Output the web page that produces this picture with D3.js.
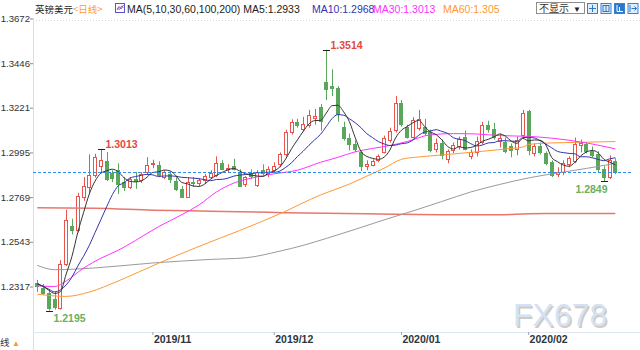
<!DOCTYPE html>
<html>
<head>
<meta charset="utf-8">
<script src="https://cdn.jsdelivr.net/npm/d3@7"></script>
<style>
  html, body { margin: 0; padding: 0; background: #fff; }
  svg { display: block; font-family: "Liberation Sans", Arial, "Noto Sans CJK SC", sans-serif; }
</style>
</head>
<body>
<svg id="chart" width="640" height="350"></svg>
<script>
// GBP/USD daily candles, 2019-10-04 .. 2020-02-24
const dates = [
  "2019-10-04","2019-10-07","2019-10-08","2019-10-09","2019-10-10","2019-10-11","2019-10-14","2019-10-15","2019-10-16","2019-10-17",
  "2019-10-18","2019-10-21","2019-10-22","2019-10-23","2019-10-24","2019-10-25","2019-10-28","2019-10-29","2019-10-30","2019-10-31",
  "2019-11-01","2019-11-04","2019-11-05","2019-11-06","2019-11-07","2019-11-08","2019-11-11","2019-11-12","2019-11-13","2019-11-14",
  "2019-11-15","2019-11-18","2019-11-19","2019-11-20","2019-11-21","2019-11-22","2019-11-25","2019-11-26","2019-11-27","2019-11-28",
  "2019-11-29","2019-12-02","2019-12-03","2019-12-04","2019-12-05","2019-12-06","2019-12-09","2019-12-10","2019-12-11","2019-12-12",
  "2019-12-13","2019-12-16","2019-12-17","2019-12-18","2019-12-19","2019-12-20","2019-12-23","2019-12-24","2019-12-25","2019-12-26",
  "2019-12-27","2019-12-30","2019-12-31","2020-01-02","2020-01-03","2020-01-06","2020-01-07","2020-01-08","2020-01-09","2020-01-10",
  "2020-01-13","2020-01-14","2020-01-15","2020-01-16","2020-01-17","2020-01-20","2020-01-21","2020-01-22","2020-01-23","2020-01-24",
  "2020-01-27","2020-01-28","2020-01-29","2020-01-30","2020-01-31","2020-02-03","2020-02-04","2020-02-05","2020-02-06","2020-02-07",
  "2020-02-10","2020-02-11","2020-02-12","2020-02-13","2020-02-14","2020-02-17","2020-02-18","2020-02-19","2020-02-20","2020-02-21",
  "2020-02-24"
];
const open = [
  1.2335,1.2307,1.2285,1.2255,1.2206,1.2430,1.2625,1.2602,1.2772,1.2822,
  1.2882,1.2925,1.2950,1.2890,1.2905,1.2845,1.2820,1.2862,1.2853,1.2896,
  1.2935,1.2929,1.2870,1.2887,1.2850,1.2810,1.2772,1.2845,1.2838,1.2853,
  1.2870,1.2880,1.2941,1.2913,1.2925,1.2895,1.2835,1.2890,1.2828,1.2908,
  1.2885,1.2905,1.2935,1.2988,1.3098,1.3148,1.3115,1.3132,1.3170,1.3225,
  1.3352,1.3330,1.3322,1.3125,1.3070,1.3035,1.2995,1.2925,1.2932,1.2955,
  1.2998,1.3060,1.3106,1.3244,1.3123,1.3075,1.3118,1.3123,1.3098,1.3010,
  1.3045,1.2960,1.3005,1.3025,1.3072,1.2978,1.2998,1.3050,1.3132,1.3115,
  1.3055,1.3050,1.3025,1.3010,1.3085,1.3205,1.2990,1.3025,1.2990,1.2945,
  1.2885,1.2898,1.2935,1.2950,1.3032,1.3035,1.3000,1.2985,1.2912,1.2872,
  1.2950
];
const high = [
  1.2350,1.2330,1.2300,1.2290,1.2450,1.2705,1.2660,1.2790,1.2870,1.2985,
  1.2988,1.3013,1.2997,1.2905,1.2940,1.2870,1.2870,1.2896,1.2895,1.2971,
  1.2958,1.2950,1.2905,1.2898,1.2870,1.2825,1.2870,1.2870,1.2865,1.2885,
  1.2905,1.2975,1.2955,1.2935,1.2963,1.2910,1.2875,1.2910,1.2905,1.2935,
  1.2925,1.2945,1.2995,1.3110,1.3162,1.3165,1.3175,1.3210,1.3215,1.3240,
  1.3514,1.3415,1.3330,1.3150,1.3090,1.3055,1.3005,1.2955,1.2960,1.2985,
  1.3080,1.3120,1.3280,1.3260,1.3135,1.3173,1.3210,1.3165,1.3110,1.3065,
  1.3060,1.3010,1.3045,1.3075,1.3106,1.3010,1.3075,1.3150,1.3155,1.3145,
  1.3090,1.3070,1.3040,1.3075,1.3210,1.3210,1.3040,1.3045,1.3000,1.2955,
  1.2920,1.2955,1.2975,1.3070,1.3060,1.3045,1.3025,1.3000,1.2925,1.2980,
  1.2965
];
const low = [
  1.2290,1.2275,1.2195,1.2200,1.2200,1.2420,1.2580,1.2590,1.2750,1.2790,
  1.2868,1.2890,1.2850,1.2845,1.2785,1.2800,1.2810,1.2811,1.2840,1.2880,
  1.2915,1.2870,1.2860,1.2840,1.2800,1.2765,1.2765,1.2820,1.2825,1.2835,
  1.2860,1.2870,1.2905,1.2895,1.2904,1.2820,1.2820,1.2860,1.2820,1.2880,
  1.2870,1.2890,1.2920,1.2975,1.3085,1.3120,1.3100,1.3120,1.3135,1.3105,
  1.3260,1.3280,1.3150,1.3055,1.3005,1.2995,1.2900,1.2905,1.2925,1.2945,
  1.2990,1.3045,1.3095,1.3125,1.3065,1.3065,1.3105,1.3080,1.2995,1.2995,
  1.2960,1.2940,1.2990,1.3010,1.3005,1.2960,1.2975,1.3035,1.3095,1.3060,
  1.3020,1.2990,1.2970,1.2980,1.3070,1.2980,1.2975,1.2985,1.2930,1.2870,
  1.2870,1.2880,1.2920,1.2940,1.2995,1.2990,1.2970,1.2895,1.2849,1.2860,
  1.2885
];
const close = [
  1.2318,1.2284,1.2210,1.2212,1.2429,1.2655,1.2602,1.2775,1.2825,1.2882,
  1.2970,1.2955,1.2862,1.2865,1.2835,1.2820,1.2862,1.2850,1.2887,1.2929,
  1.2940,1.2880,1.2895,1.2862,1.2810,1.2770,1.2843,1.2838,1.2853,1.2874,
  1.2890,1.2941,1.2913,1.2916,1.2910,1.2825,1.2870,1.2878,1.2898,1.2892,
  1.2910,1.2926,1.2988,1.3098,1.3148,1.3132,1.3137,1.3182,1.3180,1.3155,
  1.3318,1.3322,1.3190,1.3068,1.3035,1.3010,1.2925,1.2935,1.2950,1.2978,
  1.3068,1.3105,1.3244,1.3140,1.3075,1.3160,1.3165,1.3092,1.3005,1.3045,
  1.2982,1.3000,1.3030,1.3062,1.3012,1.2995,1.3055,1.3132,1.3112,1.3072,
  1.3070,1.3000,1.3005,1.3060,1.3195,1.3005,1.3025,1.2995,1.2940,1.2880,
  1.2898,1.2940,1.2965,1.3040,1.3042,1.3000,1.2980,1.2910,1.2872,1.2955,
  1.2897
];

// Moving averages, one value per session
const ma5 = [
  1.2330,1.2318,1.2298,1.2282,1.2291,1.2380,1.2470,1.2590,1.2690,1.2785,
  1.2850,1.2890,1.2902,1.2910,1.2897,1.2867,1.2849,1.2846,1.2851,1.2870,
  1.2894,1.2897,1.2906,1.2901,1.2877,1.2843,1.2836,1.2825,1.2823,1.2836,
  1.2860,1.2879,1.2894,1.2907,1.2914,1.2901,1.2887,1.2880,1.2876,1.2873,
  1.2890,1.2901,1.2923,1.2963,1.3014,1.3058,1.3101,1.3139,1.3156,1.3157,
  1.3194,1.3231,1.3233,1.3200,1.3150,1.3070,1.3000,1.2975,1.2965,1.2960,
  1.2971,1.3007,1.3069,1.3107,1.3126,1.3145,1.3157,1.3126,1.3099,1.3085,
  1.3058,1.3025,1.3012,1.3024,1.3017,1.3020,1.3031,1.3051,1.3061,1.3073,
  1.3088,1.3077,1.3052,1.3041,1.3066,1.3053,1.3058,1.3056,1.3032,1.2969,
  1.2948,1.2931,1.2925,1.2945,1.2977,1.2997,1.3005,1.2994,1.2961,1.2946,
  1.2933
];
const ma10 = [
  1.2331,1.2318,1.2303,1.2290,1.2300,1.2325,1.2365,1.2420,1.2470,1.2525,
  1.2590,1.2655,1.2720,1.2782,1.2826,1.2841,1.2865,1.2873,1.2879,1.2884,
  1.2881,1.2873,1.2876,1.2876,1.2874,1.2869,1.2867,1.2865,1.2862,1.2857,
  1.2852,1.2858,1.2859,1.2865,1.2875,1.2880,1.2883,1.2887,1.2892,1.2893,
  1.2895,1.2894,1.2901,1.2920,1.2943,1.2974,1.3001,1.3031,1.3059,1.3086,
  1.3126,1.3166,1.3186,1.3183,1.3165,1.3145,1.3120,1.3090,1.3070,1.3050,
  1.3038,1.3030,1.3032,1.3039,1.3043,1.3058,1.3082,1.3098,1.3103,1.3110,
  1.3101,1.3091,1.3069,1.3062,1.3055,1.3039,1.3028,1.3032,1.3043,1.3045,
  1.3054,1.3054,1.3052,1.3051,1.3070,1.3071,1.3068,1.3054,1.3037,1.3018,
  1.3000,1.2994,1.2990,1.2988,1.2973,1.2973,1.2968,1.2960,1.2953,1.2962,
  1.2968
];
// Slower averages, [session, value]
const ma30 = [
  ["2019-10-04",1.2320],["2019-10-09",1.2317],["2019-10-11",1.2345],["2019-10-16",1.2410],["2019-10-21",1.2460],
  ["2019-10-24",1.2500],["2019-10-29",1.2550],["2019-11-04",1.2620],["2019-11-08",1.2680],["2019-11-13",1.2730],
  ["2019-11-18",1.2795],["2019-11-21",1.2840],["2019-11-26",1.2865],["2019-12-02",1.2887],["2019-12-06",1.2905],
  ["2019-12-12",1.2945],["2019-12-17",1.2970],["2019-12-20",1.2998],["2019-12-25",1.3015],["2019-12-30",1.3030],
  ["2020-01-03",1.3050],["2020-01-09",1.3084],["2020-01-15",1.3090],["2020-01-21",1.3088],["2020-01-27",1.3080],
  ["2020-02-03",1.3076],["2020-02-07",1.3067],["2020-02-17",1.3043],["2020-02-24",1.3013]
];
const ma60 = [
  ["2019-10-04",1.2278],["2019-10-11",1.2267],["2019-10-17",1.2289],["2019-10-24",1.2345],["2019-11-04",1.2435],
  ["2019-11-13",1.2520],["2019-11-22",1.2600],["2019-12-03",1.2685],["2019-12-12",1.2780],["2019-12-19",1.2835],
  ["2019-12-24",1.2875],["2019-12-27",1.2915],["2020-01-02",1.2960],["2020-01-07",1.2972],["2020-01-13",1.2982],
  ["2020-01-21",1.2998],["2020-01-29",1.3015],["2020-01-31",1.3022],["2020-02-03",1.3035],["2020-02-06",1.3042],
  ["2020-02-14",1.3046],["2020-02-24",1.3050]
];
const ma100 = [
  ["2019-10-04",1.2424],["2019-10-09",1.2402],["2019-10-18",1.2411],["2019-11-01",1.2436],["2019-11-15",1.2454],
  ["2019-11-25",1.2462],["2019-12-03",1.2496],["2019-12-09",1.2525],["2019-12-13",1.2560],["2019-12-20",1.2606],
  ["2019-12-27",1.2654],["2020-01-06",1.2699],["2020-01-13",1.2747],["2020-01-20",1.2795],["2020-01-27",1.2833],
  ["2020-02-03",1.2866],["2020-02-10",1.2891],["2020-02-17",1.2914],["2020-02-24",1.2939]
];
const ma200 = [
  ["2019-10-04",1.2715],["2019-10-18",1.2713],["2019-11-01",1.2703],["2019-11-15",1.2698],["2019-11-29",1.2692],
  ["2019-12-13",1.2687],["2019-12-24",1.2685],["2019-12-31",1.2682],["2020-01-13",1.2680],["2020-01-27",1.2680],
  ["2020-02-03",1.2685],["2020-02-10",1.2686],["2020-02-24",1.2686]
];

const yTicks = [1.2317, 1.2543, 1.2769, 1.2995, 1.3221, 1.3446, 1.3672];
const xTickDates = ["2019-11-01", "2019-12-02", "2020-01-02", "2020-02-03"];
const xTickLabels = ["2019/11", "2019/12", "2020/01", "2020/02"];

// Sessions whose extreme is labelled
const highMarks = ["2019-10-21", "2019-12-13"];
const lowMarks = ["2019-10-08", "2020-02-20"];

const UP = "#e8544c", DOWN = "#5aa65a";

const svg = d3.select("#chart");

const x = d3.scaleBand().domain(dates).range([34.4, 618.2]);
const cx = d => x(d) + x.bandwidth() / 2;
const y = d3.scaleLinear().domain([1.2087, 1.3672]).range([332, 18.5]);

// frame
svg.append("line").attr("x1", 33).attr("x2", 640).attr("y1", 20.5).attr("y2", 20.5)
  .attr("stroke", "#cdd6e2").attr("stroke-dasharray", "1,2");
svg.append("line").attr("x1", 33.5).attr("x2", 33.5).attr("y1", 18).attr("y2", 350)
  .attr("stroke", "#d6e0ec");
svg.append("line").attr("x1", 33).attr("x2", 640).attr("y1", 332.5).attr("y2", 332.5)
  .attr("stroke", "#dde5ee");

// y axis
const gy = svg.append("g").attr("transform", "translate(33,0)")
  .call(d3.axisLeft(y).tickValues(yTicks).tickFormat(d3.format(".4f"))
    .tickSize(3).tickSizeOuter(0).tickPadding(0));
gy.select(".domain").remove();
gy.selectAll(".tick line").attr("stroke", "#8a8a8a");
gy.selectAll(".tick text").attr("fill", "#333")
  .style("font-size", "9.6px").style("font-family", "'Liberation Sans', Arial, sans-serif");

// x axis
const gx = svg.append("g").attr("transform", "translate(0,332)")
  .call(d3.axisBottom(x).tickValues(xTickDates)
    .tickFormat((d, i) => xTickLabels[i]).tickSize(3).tickSizeOuter(0));
gx.select(".domain").remove();
gx.selectAll(".tick line").attr("stroke", "#9aa6b4");
gx.selectAll(".tick text").attr("text-anchor", "start").attr("x", 1).attr("y", 3.5)
  .attr("fill", "#2b3440").style("font-size", "10.5px").style("font-weight", "bold")
  .style("font-family", "'Liberation Sans', Arial, sans-serif");

// candles
const candles = dates.map((d, i) => ({ d, o: open[i], h: high[i], l: low[i], c: close[i] }));
const gc = svg.append("g");
candles.forEach(k => {
  const px = Math.round(cx(k.d));
  const up = k.c >= k.o;
  const col = up ? UP : DOWN;
  const top = Math.round(y(Math.max(k.o, k.c)));
  const bot = Math.round(y(Math.min(k.o, k.c)));
  const wx = px + 0.5;
  gc.append("line").attr("x1", wx).attr("x2", wx).attr("y1", y(k.h)).attr("y2", top)
    .attr("stroke", col).attr("stroke-width", 1);
  gc.append("line").attr("x1", wx).attr("x2", wx).attr("y1", bot).attr("y2", y(k.l))
    .attr("stroke", col).attr("stroke-width", 1);
  gc.append("rect").attr("x", px - 1.5).attr("y", top + 0.5)
    .attr("width", 3).attr("height", Math.max(1, bot - top))
    .attr("fill", up ? "#fff" : col).attr("stroke", col).attr("stroke-width", 1);
});

// moving averages
const line = d3.line().x(p => cx(p[0])).y(p => y(p[1])).curve(d3.curveMonotoneX);
const perSession = arr => dates.map((d, i) => [d, arr[i]]);
const maSeries = [
  { pts: ma200, color: "#e8776f", w: 1.5 },
  { pts: ma100, color: "#9a9a9a", w: 1 },
  { pts: ma60, color: "#ff9933", w: 1 },
  { pts: ma30, color: "#ff33ff", w: 1 },
  { pts: perSession(ma10), color: "#3434b0", w: 1 },
  { pts: perSession(ma5), color: "#333333", w: 1 }
];
maSeries.forEach(s => {
  svg.append("path").attr("d", line(s.pts)).attr("fill", "none")
    .attr("stroke", s.color).attr("stroke-width", s.w);
});

// last price line
const last = close[close.length - 1];
svg.append("line").attr("x1", 33).attr("x2", 632)
  .attr("y1", Math.round(y(last)) + 0.5).attr("y2", Math.round(y(last)) + 0.5)
  .attr("stroke", "#2b8cf0").attr("stroke-dasharray", "3,2");

// extreme labels
const fmt = d3.format(".4f");
function mark(date, value, isHigh) {
  const px = Math.round(cx(date)) + 0.5;
  const py = y(value);
  svg.append("line").attr("x1", px - 3.5).attr("x2", px + 3.5).attr("y1", Math.round(py) + 0.5)
    .attr("y2", Math.round(py) + 0.5).attr("stroke", "#222");
  const nearRight = px > 560;
  svg.append("text")
    .attr("x", nearRight ? px + 3 : px + 4)
    .attr("y", isHigh ? py - 1 : py + 11.5)
    .attr("text-anchor", nearRight ? "end" : "start")
    .attr("fill", isHigh ? "#e4493c" : "#6caf5c")
    .style("font-size", "10.5px").style("font-weight", "bold")
    .text(fmt(value));
}
highMarks.forEach(d => mark(d, high[dates.indexOf(d)], true));
lowMarks.forEach(d => mark(d, low[dates.indexOf(d)], false));

// header legend
const trim = v => String(+v.toFixed(4));
const lastOf = arr => { const v = arr[arr.length - 1]; return Array.isArray(v) ? v[1] : v; };
svg.append("text").attr("x", 35).attr("y", 13).attr("fill", "#222")
  .style("font-size", "9.5px").style("font-family", "'Noto Sans CJK SC', sans-serif").text("英镑美元");
svg.append("text").attr("x", 73).attr("y", 13).attr("fill", "#ff9933")
  .style("font-size", "9.5px").style("font-family", "'Noto Sans CJK SC', sans-serif").text("<日线>");
svg.append("rect").attr("x", 115.5).attr("y", 3.5).attr("width", 9).attr("height", 9)
  .attr("fill", "#fff").attr("stroke", "#5656c8");
svg.append("polyline").attr("points", "117,10 119,6.5 121,9 123.5,5").attr("fill", "none")
  .attr("stroke", "#e0407a").attr("stroke-width", 1);
svg.append("polyline").attr("points", "117,8 119.5,9.5 121.5,6 123.5,7.5").attr("fill", "none")
  .attr("stroke", "#4a6ad0").attr("stroke-width", 0.8);
const legendItems = [
  { x: 127, color: "#222", text: "MA(5,10,30,60,100,200) MA5:" + trim(lastOf(ma5)) },
  { x: 312, color: "#3434b0", text: "MA10:" + trim(lastOf(ma10)) },
  { x: 373, color: "#ff33ff", text: "MA30:" + trim(lastOf(ma30)) },
  { x: 443, color: "#ff9933", text: "MA60:" + trim(lastOf(ma60)) }
];
legendItems.forEach(it => {
  svg.append("text").attr("x", it.x).attr("y", 13).attr("fill", it.color)
    .style("font-size", "10.5px").text(it.text);
});

// toolbar on the right
svg.append("rect").attr("x", 536.5).attr("y", 2.5).attr("width", 48).attr("height", 11)
  .attr("fill", "#fff").attr("stroke", "#8f8f8f");
svg.append("text").attr("x", 539).attr("y", 12).attr("fill", "#333")
  .style("font-size", "10px").style("font-family", "'Noto Sans CJK SC', sans-serif").text("不显示");
svg.append("text").attr("x", 573).attr("y", 11.5).attr("fill", "#222")
  .style("font-size", "8px").text("▼");
const btnX = [587, 600.5, 614, 627.5];
btnX.forEach((bx, i) => {
  const filled = i === 2;
  svg.append("rect").attr("x", bx + 0.5).attr("y", 3.5).attr("width", 10).attr("height", 10)
    .attr("fill", filled ? "#2a78c8" : "#dfecfa").attr("stroke", "#3a82d0");
  const gcol = filled ? "#fff" : "#2a78c8";
  const gb = svg.append("g").attr("stroke", gcol).attr("stroke-width", 1).attr("fill", "none");
  if (i === 0) {
    gb.append("line").attr("x1", bx + 5.5).attr("x2", bx + 5.5).attr("y1", 5).attr("y2", 12);
    gb.append("line").attr("x1", bx + 2).attr("x2", bx + 9).attr("y1", 8.5).attr("y2", 8.5);
  } else if (i === 1) {
    gb.append("rect").attr("x", bx + 2.5).attr("y", 5.5).attr("width", 6).attr("height", 6);
    gb.append("line").attr("x1", bx + 5.5).attr("x2", bx + 5.5).attr("y1", 6).attr("y2", 11);
  } else if (i === 2) {
    gb.append("polyline").attr("points", `${bx + 3},5 ${bx + 3},11.5 ${bx + 9},11.5`);
    gb.append("line").attr("x1", bx + 5.5).attr("x2", bx + 5.5).attr("y1", 7).attr("y2", 11);
  } else {
    gb.append("line").attr("x1", bx + 2.5).attr("x2", bx + 2.5).attr("y1", 5).attr("y2", 12);
    gb.append("line").attr("x1", bx + 4).attr("x2", bx + 9).attr("y1", 8.5).attr("y2", 8.5);
    gb.append("polyline").attr("points", `${bx + 7},6.5 ${bx + 9},8.5 ${bx + 7},10.5`);
  }
});

// bottom-left period switch
svg.append("text").attr("x", 0).attr("y", 346).attr("fill", "#333")
  .style("font-size", "9.5px").style("font-family", "'Noto Sans CJK SC', sans-serif").text("线");
svg.append("text").attr("x", 12).attr("y", 346).attr("fill", "#f0a030")
  .style("font-size", "8px").text("▲");

// watermark
svg.append("text").attr("x", 514.5).attr("y", 327.5).attr("fill", "#b3a79c").attr("opacity", 0.6)
  .style("font-size", "32px").text("FX678");
svg.append("text").attr("x", 513).attr("y", 326).attr("fill", "#d3e2f4")
  .style("font-size", "32px").text("FX678");
</script>
</body>
</html>
